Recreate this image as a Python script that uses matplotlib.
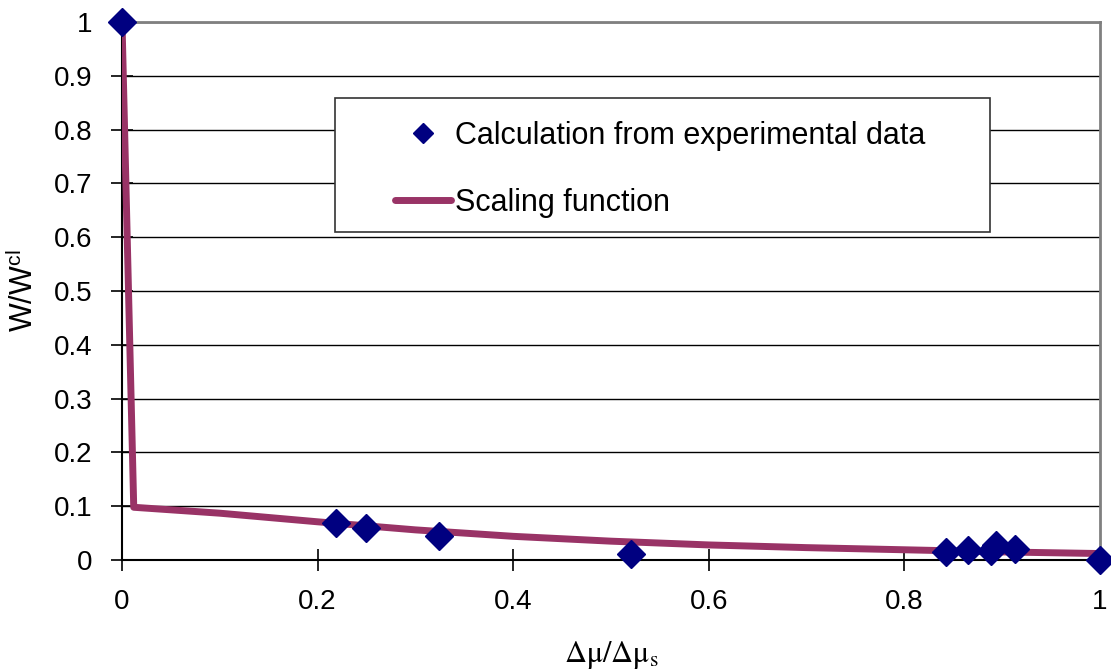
import matplotlib
matplotlib.use("Agg")
import matplotlib.pyplot as plt
from matplotlib.patches import Rectangle

# measured points (diamonds)
exp_x = [0.0, 0.219, 0.249, 0.324, 0.520, 0.8425, 0.865, 0.889, 0.894, 0.913, 1.0]
exp_y = [1.0, 0.069, 0.059, 0.045, 0.011, 0.0155, 0.019, 0.016, 0.027, 0.020, 0.0]

# scaling function
fit_x = [0.0, 0.012, 0.1, 0.2, 0.3, 0.4, 0.5, 0.6, 0.7, 0.8, 0.9, 1.0]
fit_y = [1.0, 0.098, 0.087, 0.071, 0.056, 0.044, 0.035, 0.028, 0.023, 0.019, 0.015, 0.012]

xticks = [0, 0.2, 0.4, 0.6, 0.8, 1]
yticks = [0, 0.1, 0.2, 0.3, 0.4, 0.5, 0.6, 0.7, 0.8, 0.9, 1]

plt.rcParams['font.family'] = ['Liberation Sans', 'DejaVu Sans']
plt.rcParams['mathtext.fontset'] = 'stix'

fig = plt.figure(figsize=(11.11, 6.70), dpi=100)
ax = fig.add_axes([122 / 1111, 110 / 670, 978 / 1111, 538 / 670])

ax.plot(fit_x, fit_y, '-', color='#993366', lw=5, solid_capstyle='round',
        label='Scaling function', zorder=3)
ax.plot(exp_x, exp_y, 'D', color='#000080', ms=14, mec='#000080',
        label='Calculation from experimental data', zorder=4, clip_on=False)

ax.set_xlim(0, 1)
ax.set_ylim(0, 1)
ax.set_xticks(xticks)
ax.set_xticklabels(['0', '0.2', '0.4', '0.6', '0.8', '1'])
ax.set_yticks(yticks)
ax.set_yticklabels(['0', '0.1', '0.2', '0.3', '0.4', '0.5', '0.6', '0.7', '0.8', '0.9', '1'])
ax.tick_params(direction='inout', length=16, width=1.2, labelsize=20, colors='black')
ax.tick_params(axis='y', pad=13)
ax.tick_params(axis='x', pad=13)
ax.yaxis.grid(True, color='black', lw=1)
ax.set_axisbelow(True)

for s in ['left', 'bottom']:
    ax.spines[s].set_color('black')
    ax.spines[s].set_linewidth(1.5)
for s in ['top', 'right']:
    ax.spines[s].set_color('#808080')
    ax.spines[s].set_linewidth(2)

ax.set_ylabel(r'W/W$^{\mathregular{cl}}$', fontsize=22, labelpad=10)
ax.set_xlabel(r'$\mathrm{Δμ/Δμ_s}$', fontsize=22, labelpad=17)

# legend box
ax.add_patch(Rectangle((0.2178, 0.6097), 0.6697, 0.249, transform=ax.transAxes,
                       facecolor='white', edgecolor='#333333', lw=1.2, zorder=5))

h, l = ax.get_legend_handles_labels()
leg = ax.legend(h[::-1], l[::-1], loc='upper left', bbox_to_anchor=(0.279, 0.816),
                prop={'size': 22}, frameon=False, borderpad=0, labelspacing=1.2,
                handlelength=1.85, handletextpad=0.12, borderaxespad=0, markerscale=0.75)
leg.set_zorder(6)

fig.savefig('out.png', dpi=100)
